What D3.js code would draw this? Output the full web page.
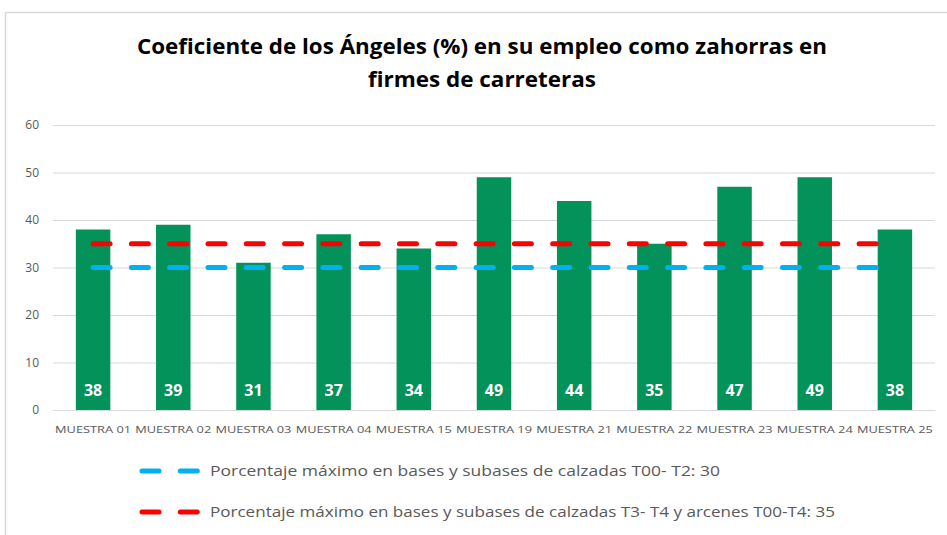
<!DOCTYPE html>
<html>
<head>
<meta charset="utf-8">
<script src="https://cdn.jsdelivr.net/npm/d3@7"></script>
<style>
  body { margin: 0; background: #fff; }
  svg { display: block; font-family: "Open Sans", "Noto Sans", sans-serif; }
</style>
</head>
<body>
<svg width="947" height="535"></svg>
<script>
const categories = ["MUESTRA 01", "MUESTRA 02", "MUESTRA 03", "MUESTRA 04", "MUESTRA 15",
  "MUESTRA 19", "MUESTRA 21", "MUESTRA 22", "MUESTRA 23", "MUESTRA 24", "MUESTRA 25"];
const values = [38, 39, 31, 37, 34, 49, 44, 35, 47, 49, 38];
const limitT0T2 = [30, 30, 30, 30, 30, 30, 30, 30, 30, 30, 30];
const limitT3T4 = [35, 35, 35, 35, 35, 35, 35, 35, 35, 35, 35];
const yTicks = [0, 10, 20, 30, 40, 50, 60];
const titleLines = ["Coeficiente de los Ángeles (%) en su empleo como zahorras en", "firmes de carreteras"];
const legendLabels = [
  "Porcentaje máximo en bases y subases de calzadas T00- T2: 30",
  "Porcentaje máximo en bases y subases de calzadas T3- T4 y arcenes T00-T4: 35"
];

const svg = d3.select("svg");
const green = "#03925a", blue = "#00b0f0", red = "#ff0000", grey = "#595959";

// chart border
svg.append("rect")
    .attr("x", 5.5).attr("y", 12.5)
    .attr("width", 960).attr("height", 540)
    .attr("fill", "none").attr("stroke", "#d9d9d9").attr("stroke-width", 1.5);

// title
svg.selectAll(".title")
    .data(titleLines)
    .enter().append("text")
    .attr("x", 482)
    .attr("y", (d, i) => 54 + i * 33)
    .attr("text-anchor", "middle")
    .attr("font-size", 21)
    .attr("font-weight", "bold")
    .attr("fill", "#000")
    .attr("textLength", (d, i) => i === 0 ? 690 : 228)
    .attr("lengthAdjust", "spacingAndGlyphs")
    .text(d => d);

const x = d3.scaleBand()
    .domain(categories)
    .range([53, 935])
    .paddingInner(0.57)
    .paddingOuter(0.285);

const y = d3.scaleLinear()
    .domain([0, 60])
    .range([410, 125]);

// y grid + labels
const yAxis = svg.append("g")
    .attr("transform", "translate(53,0)")
    .call(d3.axisLeft(y).tickValues(yTicks).tickSize(-(935 - 53)).tickPadding(14));
yAxis.select(".domain").remove();
yAxis.selectAll("line").attr("stroke", "#d9d9d9").attr("stroke-width", 1);
yAxis.selectAll("text").attr("fill", grey).attr("font-size", 12)
    .attr("font-family", "Open Sans, sans-serif");

// x labels
const xAxis = svg.append("g")
    .attr("transform", "translate(0,410)")
    .call(d3.axisBottom(x).tickSize(0).tickPadding(16));
xAxis.select(".domain").attr("stroke", "#d9d9d9");
xAxis.selectAll("text")
    .attr("fill", grey)
    .attr("font-size", 9.5)
    .attr("font-family", "Open Sans, sans-serif")
    .attr("textLength", 76)
    .attr("lengthAdjust", "spacingAndGlyphs");

// bars
svg.selectAll(".bar")
    .data(categories)
    .enter().append("rect")
    .attr("x", d => x(d))
    .attr("y", (d, i) => y(values[i]))
    .attr("width", x.bandwidth())
    .attr("height", (d, i) => y(0) - y(values[i]))
    .attr("fill", green);

// bar value labels
svg.selectAll(".val")
    .data(categories)
    .enter().append("text")
    .attr("x", d => x(d) + x.bandwidth() / 2)
    .attr("y", y(0) - 14)
    .attr("text-anchor", "middle")
    .attr("font-size", 16)
    .attr("font-weight", "bold")
    .attr("fill", "#fff")
    .text((d, i) => values[i]);

// limit lines
const line = d3.line()
    .x(d => x(d.cat) + x.bandwidth() / 2)
    .y(d => y(d.v));

[[limitT0T2, blue], [limitT3T4, red]].forEach(([series, col]) => {
    svg.append("path")
        .datum(categories.map((c, i) => ({ cat: c, v: series[i] })))
        .attr("fill", "none")
        .attr("stroke", col)
        .attr("stroke-width", 5)
        .attr("stroke-linecap", "round")
        .attr("stroke-dasharray", "17 21.3")
        .attr("d", line);
});

// legend
const legend = svg.selectAll(".legend")
    .data(legendLabels)
    .enter().append("g")
    .attr("transform", (d, i) => `translate(0,${471 + i * 41})`);

legend.append("line")
    .attr("x1", 142).attr("x2", 200)
    .attr("stroke", (d, i) => i === 0 ? blue : red)
    .attr("stroke-width", 5)
    .attr("stroke-linecap", "round")
    .attr("stroke-dasharray", "17 21.3");

legend.append("text")
    .attr("x", 210)
    .attr("y", 5)
    .attr("font-size", 15)
    .attr("fill", grey)
    .attr("textLength", (d, i) => i === 0 ? 510 : 625)
    .attr("lengthAdjust", "spacingAndGlyphs")
    .text(d => d);
</script>
</body>
</html>
